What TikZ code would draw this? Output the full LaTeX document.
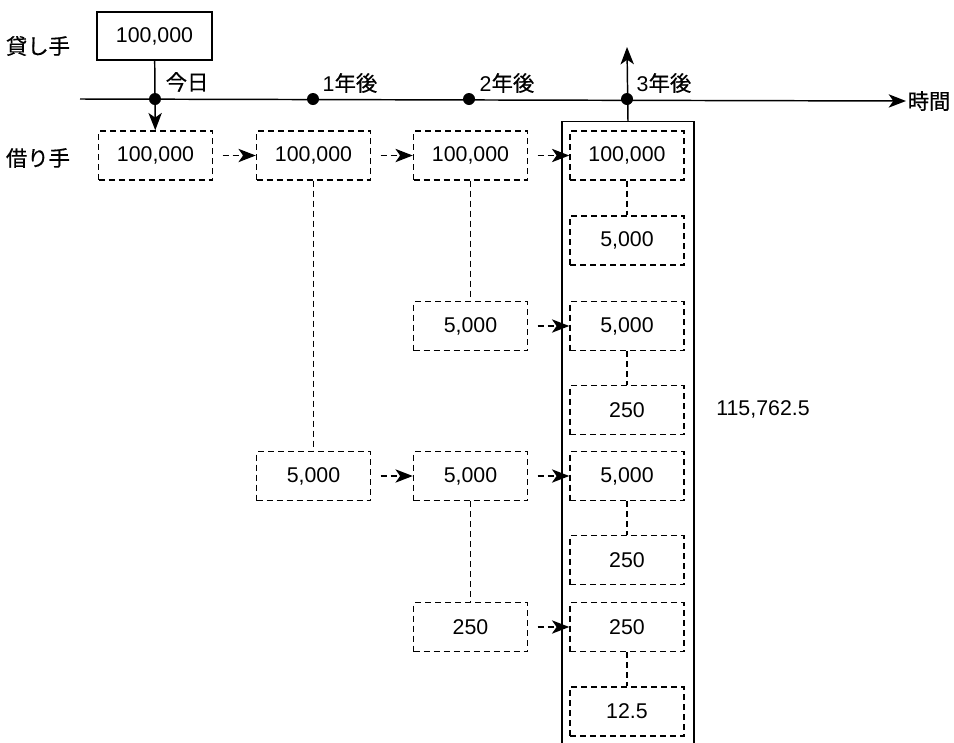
\documentclass[tikz,border=0pt]{standalone}
\usepackage{fontspec}
\setmainfont{Liberation Sans}
\newfontfamily\jp[FakeBold=0.6]{Noto Sans CJK JP}
\usetikzlibrary{arrows.meta}

\tikzset{every picture/.style={line width=1.1pt}}
\tikzset{
  amount/.style={draw, dash pattern=on 4.5pt off 3pt, minimum width=85.5pt, minimum height=36.75pt, inner sep=0.75pt, font=\fontsize{16}{19}\selectfont},
  lendbox/.style={draw, minimum width=86.25pt, minimum height=36pt, inner sep=0.75pt, font=\fontsize{16}{19}\selectfont},
  txt/.style={inner sep=0.75pt, font=\fontsize{16}{19}\selectfont},
  dot/.style={circle, fill, inner sep=0pt, minimum size=9pt},
  carry/.style={dash pattern=on 4.5pt off 3pt, shorten <=7pt, -{Stealth[length=13pt, width=10pt, inset=3.5pt]}},
  link/.style={dash pattern=on 4.5pt off 3pt},
  solidarr/.style={-{Stealth[length=13pt, width=10pt, inset=3.5pt]}}
}

\begin{document}
\begin{tikzpicture}[x=0.75pt,y=0.75pt,yscale=-1,xscale=1]
\useasboundingbox (0,0) rectangle (954,743);
\clip (0,0) rectangle (954,743);

% Text Node
\node (lendlbl) [txt] at (38,46) {\jp 貸し手};
\node (borrlbl) [txt] at (38,158) {\jp 借り手};
\node (lender) [lendbox] at (154.5,36) {100,000};

% Timeline
\coordinate (tstart) at (80,99);
\node (time) [txt, anchor=west] at (906,101) {\jp 時間};
\draw [solidarr] (tstart) -- (time.west);
\node (d0) [dot] at (155,99) {};
\node (d1) [dot] at (313,99) {};
\node (d2) [dot] at (469,99) {};
\node (d3) [dot] at (627,99) {};
\node (t0) [txt, anchor=west] at (164,82) {\jp 今日};
\node (t1) [txt, anchor=west] at (321,83) {1{\jp 年後}};
\node (t2) [txt, anchor=west] at (478,83) {2{\jp 年後}};
\node (t3) [txt, anchor=west] at (635,83) {3{\jp 年後}};

% Frame round the third year
\node (frame) [draw, minimum width=99pt, minimum height=480pt, inner sep=0pt, anchor=north] at (628,121) {};
\coordinate (up) at (627,47);
\draw [solidarr] (frame.north) -- (up);

% Text Node
\node (y0) [amount] at (155.5,155.5) {100,000};
\node (y1a) [amount] at (313.5,155.5) {100,000};
\node (y1b) [amount] at (313.5,476) {5,000};
\node (y2a) [amount] at (470.5,155.5) {100,000};
\node (y2b) [amount] at (470.5,326) {5,000};
\node (y2c) [amount] at (470.5,476) {5,000};
\node (y2d) [amount] at (470.5,627) {250};
\node (y3a) [amount] at (627,155.5) {100,000};
\node (y3b) [amount] at (627,240.5) {5,000};
\node (y3c) [amount] at (627,326) {5,000};
\node (y3d) [amount] at (627,410) {250};
\node (y3e) [amount] at (627,476) {5,000};
\node (y3f) [amount] at (627,560) {250};
\node (y3g) [amount] at (627,627) {250};
\node (y3h) [amount] at (627,711.5) {12.5};
\node (total) [txt] at (763,409) {115,762.5};

% Connection
\draw [solidarr] (lender) -- (y0);
\draw [carry] (y0) -- (y1a);
\draw [carry] (y1a) -- (y2a);
\draw [carry] (y2a) -- (y3a);
\draw [carry] (y2b) -- (y3c);
\draw [carry] (y1b) -- (y2c);
\draw [carry] (y2c) -- (y3e);
\draw [carry] (y2d) -- (y3g);
% Connection
\draw [link] (y1a) -- (y1b);
\draw [link] (y2a) -- (y2b);
\draw [link] (y2c) -- (y2d);
\draw [link] (y3a) -- (y3b);
\draw [link] (y3c) -- (y3d);
\draw [link] (y3e) -- (y3f);
\draw [link] (y3g) -- (y3h);

\end{tikzpicture}
\end{document}
